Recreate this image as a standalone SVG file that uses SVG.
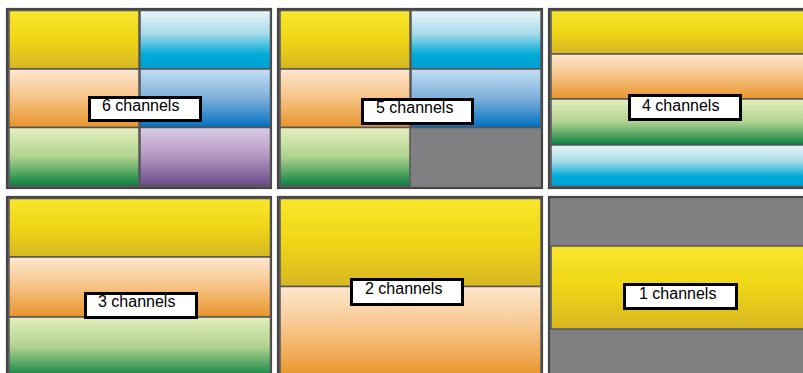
<svg xmlns="http://www.w3.org/2000/svg" width="803" height="373" viewBox="0 0 803 373">
<defs>
<linearGradient id="gY" x1="0" y1="0" x2="0" y2="1"><stop offset="0" stop-color="#f8e62c"/><stop offset="0.5" stop-color="#efd516"/><stop offset="1" stop-color="#d6b623"/></linearGradient>
<linearGradient id="gC" x1="0" y1="0" x2="0" y2="1"><stop offset="0" stop-color="#eaf5f8"/><stop offset="0.4" stop-color="#a6dbea"/><stop offset="0.75" stop-color="#00aad6"/><stop offset="1" stop-color="#00a0d0"/></linearGradient>
<linearGradient id="gO" x1="0" y1="0" x2="0" y2="1"><stop offset="0" stop-color="#fde7cf"/><stop offset="0.45" stop-color="#f7c68c"/><stop offset="1" stop-color="#e8952a"/></linearGradient>
<linearGradient id="gB" x1="0" y1="0" x2="0" y2="1"><stop offset="0" stop-color="#c4def2"/><stop offset="0.5" stop-color="#7eb0dc"/><stop offset="1" stop-color="#0070bf"/></linearGradient>
<linearGradient id="gG" x1="0" y1="0" x2="0" y2="1"><stop offset="0" stop-color="#e4efbf"/><stop offset="0.5" stop-color="#b0d28e"/><stop offset="1" stop-color="#0a8040"/></linearGradient>
<linearGradient id="gP" x1="0" y1="0" x2="0" y2="1"><stop offset="0" stop-color="#d9cde5"/><stop offset="0.5" stop-color="#b396c0"/><stop offset="1" stop-color="#684a8a"/></linearGradient>
</defs>
<style>
.frame{fill:#808083;stroke:#454545;stroke-width:2.2}
.cell{stroke:#555558;stroke-width:1.5}
.lbl{fill:#ffffff;stroke:#000000;stroke-width:3}
.txt{font-family:"Liberation Sans",Arial,sans-serif;font-size:16px;fill:#000000}
</style>
<g id="panel6">
<rect class="frame" x="7" y="9" width="264" height="179"/>
<rect class="cell" fill="url(#gY)" x="9" y="10.5" width="130" height="58.5"/>
<rect class="cell" fill="url(#gC)" x="140" y="10.5" width="130.5" height="58.5"/>
<rect class="cell" fill="url(#gO)" x="9" y="69" width="130" height="58.5"/>
<rect class="cell" fill="url(#gB)" x="140" y="69" width="130.5" height="58.5"/>
<rect class="cell" fill="url(#gG)" x="9" y="127.5" width="130" height="58.5"/>
<rect class="cell" fill="url(#gP)" x="140" y="127.5" width="130.5" height="58.5"/>
<rect class="lbl" x="89.5" y="97.5" width="111" height="23"/>
<text class="txt" x="102" y="111">6 channels</text>
</g>
<g id="panel5">
<rect class="frame" x="278" y="9" width="264" height="179"/>
<rect class="cell" fill="url(#gY)" x="280" y="10.5" width="130" height="58.5"/>
<rect class="cell" fill="url(#gC)" x="411" y="10.5" width="130" height="58.5"/>
<rect class="cell" fill="url(#gO)" x="280" y="69" width="130" height="58.5"/>
<rect class="cell" fill="url(#gB)" x="411" y="69" width="130" height="58.5"/>
<rect class="cell" fill="url(#gG)" x="280" y="127.5" width="130" height="58.5"/>
<rect class="lbl" x="362.5" y="99.5" width="110" height="24"/>
<text class="txt" x="376" y="113">5 channels</text>
</g>
<g id="panel4">
<rect class="frame" x="549" y="9" width="270" height="179"/>
<rect class="cell" fill="url(#gY)" x="551" y="10.5" width="265" height="43.5"/>
<rect class="cell" fill="url(#gO)" x="551" y="54" width="265" height="45"/>
<rect class="cell" fill="url(#gG)" x="551" y="99" width="265" height="46"/>
<rect class="cell" fill="url(#gC)" x="551" y="145" width="265" height="41.5"/>
<rect class="lbl" x="629.5" y="95.5" width="111" height="24"/>
<text class="txt" x="642" y="111">4 channels</text>
</g>
<g id="panel3">
<rect class="frame" x="7" y="197" width="264" height="182"/>
<rect class="cell" fill="url(#gY)" x="9" y="198.5" width="261.5" height="58.5"/>
<rect class="cell" fill="url(#gO)" x="9" y="257" width="261.5" height="60"/>
<rect class="cell" fill="url(#gG)" x="9" y="317" width="261.5" height="60"/>
<rect class="lbl" x="85.5" y="293.5" width="111" height="24"/>
<text class="txt" x="98" y="307">3 channels</text>
</g>
<g id="panel2">
<rect class="frame" x="278" y="197" width="264" height="182"/>
<rect class="cell" fill="url(#gY)" x="280" y="198.5" width="261" height="88"/>
<rect class="cell" fill="url(#gO)" x="280" y="286.5" width="261" height="90"/>
<rect class="lbl" x="351.5" y="279.5" width="111" height="25"/>
<text class="txt" x="365" y="294">2 channels</text>
</g>
<g id="panel1">
<rect class="frame" x="549" y="197" width="270" height="182"/>
<rect class="cell" fill="url(#gY)" x="551" y="246" width="265" height="83"/>
<rect class="lbl" x="624.5" y="284.5" width="112" height="24"/>
<text class="txt" x="639" y="299">1 channels</text>
</g>
<g id="connectors"/>
</svg>
